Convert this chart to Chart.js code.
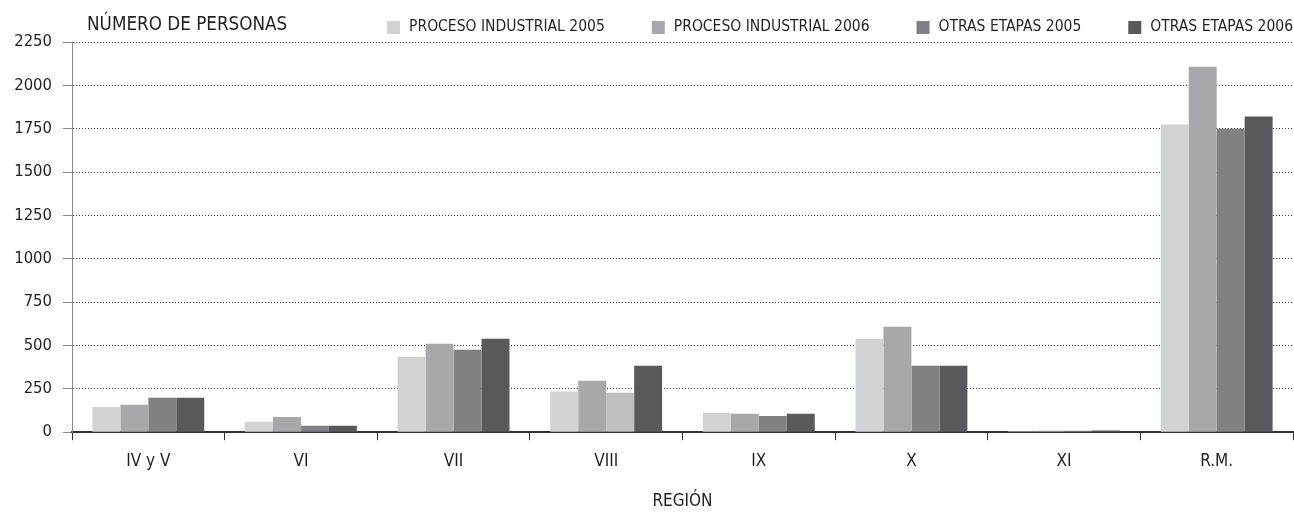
<!DOCTYPE html>
<html lang="es">
<head>
<meta charset="utf-8">
<title>Número de personas por región</title>
<script src="https://cdn.jsdelivr.net/npm/chart.js@4.4.1/dist/chart.umd.min.js"></script>
<style>
  html, body { margin: 0; padding: 0; background: #fff; }
  #wrap { width: 1294px; height: 512px; }
</style>
</head>
<body>
<div id="wrap"><canvas id="grafico" width="1294" height="512"></canvas></div>
<script>
// ==============================
// Datos
// ==============================
const regiones = ['IV y V', 'VI', 'VII', 'VIII', 'IX', 'X', 'XI', 'R.M.'];
const procesoIndustrial2005 = [146, 60, 435, 235, 112, 539, 6, 1774];
const procesoIndustrial2006 = [158, 88, 510, 296, 106, 608, 8, 2108];
const otrasEtapas2005 = [198, 37, 475, 227, 94, 383, 8, 1751];
const otrasEtapas2006 = [198, 37, 539, 383, 106, 383, 10, 1820];
const ticksY = [0, 250, 500, 750, 1000, 1250, 1500, 1750, 2000, 2250];

const FUENTE = "'Liberation Sans Narrow', 'DejaVu Sans Condensed', 'Arial Narrow', sans-serif";
const TINTA = '#231f20';

// en la región VIII la barra de otras etapas 2005 aparece más clara
const coloresOE2005 = regiones.map(r => r === 'VIII' ? '#bebfc2' : '#808184');

// ==============================
// Título del eje Y y leyenda
// ==============================
const rotulos = {
  id: 'rotulos',
  afterDraw(chart) {
    const ctx = chart.ctx;
    ctx.save();
    ctx.fillStyle = TINTA;
    ctx.textBaseline = 'middle';
    ctx.font = `18.7px ${FUENTE}`;
    ctx.textAlign = 'left';
    ctx.fillText('NÚMERO DE PERSONAS', 87, 25);

    // leyenda alineada a la derecha
    ctx.font = `15.5px ${FUENTE}`;
    const caja = 13, sep = 9, hueco = 47;
    const items = chart.data.datasets.map(ds => ({ txt: ds.label, color: ds.colorLeyenda, w: ctx.measureText(ds.label).width }));
    let x = 1293;
    for (let i = items.length - 1; i >= 0; i--) {
      const it = items[i];
      const xt = x - it.w;
      ctx.fillStyle = TINTA;
      ctx.fillText(it.txt, xt, 27);
      ctx.fillStyle = it.color;
      ctx.fillRect(xt - sep - caja, 21, caja, caja);
      x = xt - sep - caja - hueco;
    }
    ctx.restore();
  }
};

// ==============================
// Gráfica
// ==============================
const ctx = document.getElementById('grafico').getContext('2d');
new Chart(ctx, {
  type: 'bar',
  data: {
    labels: regiones,
    datasets: [
      { label: 'PROCESO INDUSTRIAL 2005', data: procesoIndustrial2005, backgroundColor: '#d1d2d4', colorLeyenda: '#d1d2d4' },
      { label: 'PROCESO INDUSTRIAL 2006', data: procesoIndustrial2006, backgroundColor: '#a7a8ab', colorLeyenda: '#a7a8ab' },
      { label: 'OTRAS ETAPAS 2005', data: otrasEtapas2005, backgroundColor: coloresOE2005, colorLeyenda: '#808184' },
      { label: 'OTRAS ETAPAS 2006', data: otrasEtapas2006, backgroundColor: '#58595b', colorLeyenda: '#58595b' }
    ]
  },
  options: {
    responsive: false,
    animation: false,
    layout: { padding: { top: 42, right: 1, left: 0, bottom: 0 } },
    datasets: { bar: { categoryPercentage: 0.733, barPercentage: 1, borderWidth: 0 } },
    plugins: {
      legend: { display: false },
      tooltip: { enabled: false }
    },
    scales: {
      x: {
        grid: { offset: true, drawOnChartArea: false, drawTicks: true, tickLength: 8, tickColor: '#333', tickWidth: 1 },
        border: { color: '#333', width: 2 },
        ticks: { color: TINTA, font: { family: FUENTE, size: 17 }, padding: 11, maxRotation: 0 },
        title: { display: true, text: 'REGIÓN', color: TINTA, font: { family: FUENTE, size: 17 }, padding: { top: 9, bottom: 0 } }
      },
      y: {
        min: 0,
        max: 2250,
        afterBuildTicks: (s) => { s.ticks = ticksY.map(v => ({ value: v })); },
        afterFit: (s) => { s.width = 72; },
        grid: { color: '#444', lineWidth: 1, tickColor: '#888', tickLength: 9, tickWidth: 1 },
        border: { color: '#8a8a8a', width: 1, dash: [1, 2] },
        ticks: { color: TINTA, font: { family: FUENTE, size: 16.5 }, padding: 11, callback: (v) => String(v) }
      }
    }
  },
  plugins: [rotulos]
});
</script>
</body>
</html>
